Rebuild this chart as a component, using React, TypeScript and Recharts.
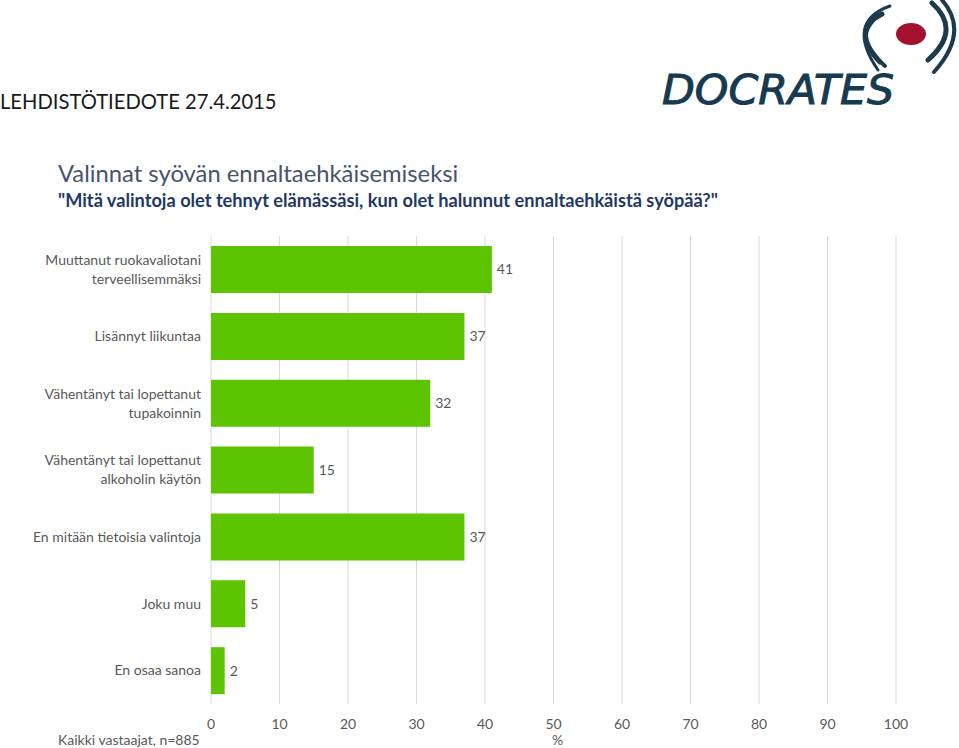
import React from "react"
import { BarChart, Bar, XAxis, YAxis, CartesianGrid, LabelList } from "recharts"

const categories = [
  "Muuttanut ruokavaliotani\nterveellisemmäksi",
  "Lisännyt liikuntaa",
  "Vähentänyt tai lopettanut\ntupakoinnin",
  "Vähentänyt tai lopettanut\nalkoholin käytön",
  "En mitään tietoisia valintoja",
  "Joku muu",
  "En osaa sanoa",
]
const values = [41, 37, 32, 15, 37, 5, 2]
const xTicks = [0, 10, 20, 30, 40, 50, 60, 70, 80, 90, 100]

const data = categories.map((name, i) => ({ name, value: values[i] }))

const FONT = "Lato, 'Open Sans', sans-serif"
const GREY = "#595959"

function CategoryTick(props: any) {
  const { x, y, payload } = props
  const lines: string[] = String(payload.value).split("\n")
  const lh = 19
  const start = y - ((lines.length - 1) * lh) / 2
  return (
    <text x={x} y={start} textAnchor="end" fill={GREY} fontSize={14} fontFamily={FONT}>
      {lines.map((l, i) => (
        <tspan key={i} x={x} dy={i === 0 ? "0.35em" : lh}>
          {l}
        </tspan>
      ))}
    </text>
  )
}

function Logo() {
  // rough sketch of the Docrates mark
  return (
    <svg width={310} height={115} style={{ position: "absolute", left: 650, top: 0 }}>
      <ellipse cx={261} cy={34} rx={15} ry={11} fill="#a3112f" />
      <path d="M232 14 Q200 30 230 62" stroke="#1c3a4c" strokeWidth={5} fill="none" strokeLinecap="round" />
      <path d="M222 22 Q205 40 235 66" stroke="#1c3a4c" strokeWidth={4} fill="none" strokeLinecap="round" />
      <path d="M240 6 Q195 22 228 70" stroke="#1c3a4c" strokeWidth={3} fill="none" strokeLinecap="round" />
      <path d="M282 3 Q312 30 278 60" stroke="#1c3a4c" strokeWidth={5} fill="none" strokeLinecap="round" />
      <path d="M292 0 Q320 32 284 72" stroke="#1c3a4c" strokeWidth={4} fill="none" strokeLinecap="round" />
      <text
        x={12}
        y={104}
        fontFamily="'DejaVu Sans', sans-serif"
        fontStyle="italic"
        fontSize={40}
        fill="#173a50"
        stroke="#173a50"
        strokeWidth={1}
        textLength={232}
        lengthAdjust="spacingAndGlyphs"
      >
        DOCRATES
      </text>
    </svg>
  )
}

export default function App() {
  return (
    <div style={{ position: "absolute", left: 0, top: 0, width: 959, height: 748, background: "#fff", overflow: "hidden" }}>
      <div style={{ position: "absolute", left: 0, top: 88, fontFamily: FONT, fontSize: 20.2, lineHeight: "26px", color: "#1a1a1a" }}>
        LEHDISTÖTIEDOTE 27.4.2015
      </div>
      <Logo />
      <div style={{ position: "absolute", left: 58, top: 158, fontFamily: FONT, fontSize: 23.8, lineHeight: "30px", color: "#44546a" }}>
        Valinnat syövän ennaltaehkäisemiseksi
      </div>
      <div style={{ position: "absolute", left: 58, top: 188, fontFamily: FONT, fontSize: 18.2, fontWeight: "bold", lineHeight: "24px", color: "#1f3864" }}>
        "Mitä valintoja olet tehnyt elämässäsi, kun olet halunnut ennaltaehkäistä syöpää?"
      </div>

      <div style={{ position: "absolute", left: 0, top: 0 }}>
        <BarChart
          width={959}
          height={748}
          data={data}
          layout="vertical"
          barCategoryGap="15%"
          margin={{ top: 236, right: 63, bottom: 0, left: 0 }}
        >
          <CartesianGrid horizontal={false} stroke="#d9d9d9" strokeWidth={1} />
          <XAxis
            type="number"
            domain={[0, 100]}
            ticks={xTicks}
            interval={0}
            axisLine={false}
            tickLine={false}
            tickMargin={9}
            height={44}
            tick={{ fontSize: 14, fill: GREY, fontFamily: FONT }}
          />
          <YAxis
            type="category"
            dataKey="name"
            width={211}
            axisLine={false}
            tickLine={false}
            tickMargin={4}
            interval={0}
            tick={<CategoryTick />}
          />
          <Bar dataKey="value" fill="#5cc400" isAnimationActive={false}>
            <LabelList dataKey="value" position="right" offset={5} fill={GREY} fontSize={14} fontFamily={FONT} />
          </Bar>
        </BarChart>
      </div>

      <div style={{ position: "absolute", left: 58, top: 731, fontFamily: FONT, fontSize: 14, lineHeight: "17px", color: GREY }}>
        Kaikki vastaajat, n=885
      </div>
      <div style={{ position: "absolute", left: 552, top: 733, fontFamily: FONT, fontSize: 14, lineHeight: "14px", color: GREY }}>
        %
      </div>
    </div>
  )
}
